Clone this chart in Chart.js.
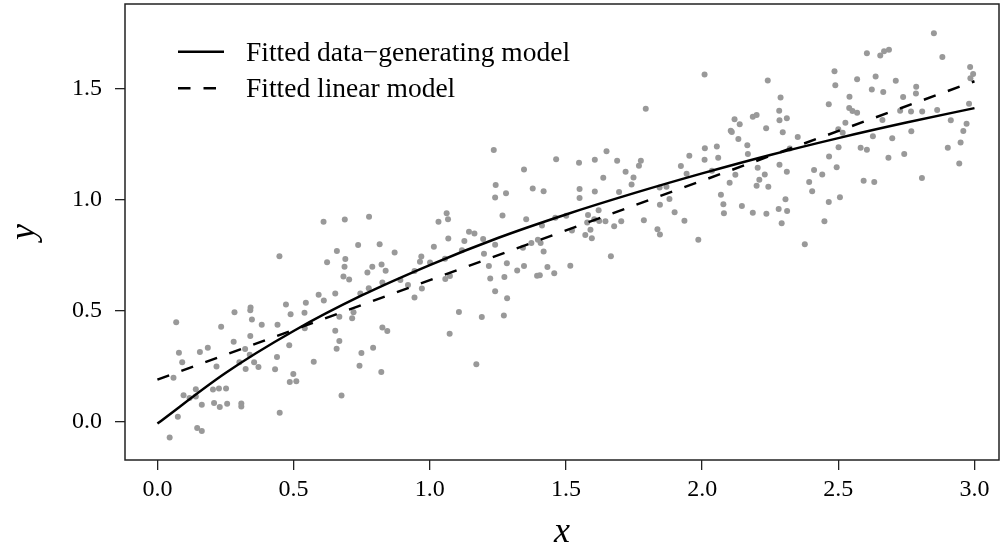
<!DOCTYPE html>
<html>
<head>
<meta charset="utf-8">
<script src="https://cdn.jsdelivr.net/npm/chart.js@4.4.1/dist/chart.umd.min.js"></script>
<style>
  html, body { margin: 0; padding: 0; background: #fff; }
  #wrap { width: 1003px; height: 550px; }
</style>
</head>
<body>
<div id="wrap"><canvas id="chart" width="1003" height="550"></canvas></div>
<script>
const ptX = [
  0.069,0.283,0.342,0.341,0.234,0.347,0.383,0.079,0.156,0.185,0.280,0.341,0.322,0.091,0.059,0.217,0.301,0.339,0.355,0.371,0.324,0.141,0.096,0.118,0.141,0.204,0.226,0.252,0.163,0.208,0.229,0.256,0.308,0.308,0.075,0.146,0.163,0.045,
  0.610,0.688,0.777,0.448,0.659,0.737,0.816,0.690,0.623,0.687,0.789,0.823,0.838,0.771,0.683,0.704,0.826,0.776,0.745,0.653,0.592,0.611,0.545,0.472,0.489,0.540,0.668,0.720,0.715,0.441,0.541,0.653,0.826,0.844,0.668,0.484,0.658,0.792,0.749,0.439,0.574,0.742,0.432,0.822,0.499,0.486,0.510,0.676,0.449,
  1.235,1.242,1.240,1.280,1.267,1.062,1.067,1.032,1.144,1.164,1.068,1.196,1.127,1.240,1.015,0.871,1.118,1.199,0.969,0.964,1.001,1.056,1.217,1.283,0.944,1.074,1.057,1.222,1.274,0.892,0.920,0.971,1.240,0.944,1.284,1.107,1.191,1.272,1.073,1.171,
  1.649,1.464,1.548,1.606,1.688,1.346,1.719,1.637,1.378,1.418,1.550,1.550,1.606,1.695,1.354,1.461,1.501,1.581,1.620,1.412,1.522,1.604,1.622,1.645,1.703,1.677,1.590,1.571,1.595,1.578,1.397,1.407,1.342,1.373,1.418,1.346,1.321,1.432,1.516,1.394,1.404,1.457,1.665,
  2.009,1.793,2.119,2.138,2.105,2.109,2.133,2.166,2.168,1.953,2.010,2.054,2.059,2.009,1.775,1.768,1.922,1.748,1.741,1.943,2.036,2.122,2.101,1.844,1.869,2.069,1.880,1.845,2.078,2.146,1.899,2.080,1.786,1.935,1.836,1.845,1.986,
  2.605,2.486,2.489,2.569,2.241,2.288,2.541,2.465,2.540,2.552,2.569,2.186,2.200,2.283,2.284,2.311,2.526,2.235,2.296,2.500,2.516,2.351,2.501,2.582,2.605,2.322,2.466,2.284,2.204,2.311,2.411,2.494,2.230,2.441,2.210,2.393,2.200,2.243,2.404,2.593,2.506,2.306,2.465,2.281,2.312,2.186,2.236,2.449,2.292,2.377,
  2.851,2.654,2.668,2.686,2.882,2.984,2.995,2.985,2.637,2.711,2.623,2.665,2.786,2.785,2.738,2.727,2.767,2.808,2.863,2.980,2.662,2.913,2.971,2.768,2.959,2.627,2.698,2.949,2.902,2.684,2.742,2.944,2.807,2.632
];
const ptY = [
  0.446,0.492,0.513,0.501,0.426,0.459,0.435,0.309,0.313,0.332,0.359,0.384,0.326,0.266,0.197,0.247,0.266,0.300,0.266,0.245,0.236,0.145,0.118,0.105,0.112,0.143,0.148,0.148,0.075,0.083,0.065,0.079,0.081,0.067,0.021,-0.030,-0.043,-0.073,
  0.899,0.909,0.922,0.744,0.767,0.794,0.798,0.731,0.717,0.697,0.697,0.707,0.679,0.671,0.653,0.639,0.625,0.600,0.576,0.576,0.570,0.544,0.534,0.526,0.483,0.489,0.471,0.491,0.465,0.435,0.420,0.408,0.423,0.407,0.362,0.343,0.327,0.332,0.308,0.290,0.269,0.251,0.235,0.222,0.213,0.177,0.181,0.117,0.039,
  1.222,1.065,1.008,1.027,0.927,0.937,0.910,0.899,0.854,0.846,0.824,0.821,0.812,0.796,0.787,0.761,0.771,0.755,0.743,0.719,0.716,0.733,0.700,0.712,0.677,0.655,0.641,0.644,0.650,0.637,0.614,0.598,0.586,0.558,0.555,0.493,0.470,0.477,0.395,0.257,
  1.217,1.181,1.165,1.179,1.174,1.135,1.124,1.097,1.049,1.036,1.047,1.006,1.035,1.033,0.910,0.917,0.926,0.930,0.951,0.882,0.860,0.910,0.903,0.901,0.901,0.879,0.863,0.839,0.825,0.896,0.818,0.803,0.782,0.804,0.765,0.700,0.680,0.695,0.701,0.656,0.658,0.667,0.744,
  1.562,1.408,1.361,1.338,1.309,1.304,1.272,1.244,1.204,1.197,1.230,1.238,1.188,1.178,1.174,1.151,1.150,1.099,1.067,1.115,1.129,1.111,1.075,1.054,1.057,1.021,1.002,0.976,0.978,0.970,0.942,0.937,0.906,0.904,0.865,0.842,0.818,
  1.658,1.577,1.514,1.541,1.535,1.459,1.462,1.428,1.411,1.398,1.390,1.372,1.380,1.399,1.356,1.365,1.345,1.320,1.302,1.316,1.300,1.281,1.235,1.233,1.223,1.229,1.193,1.156,1.142,1.124,1.132,1.145,1.112,1.112,1.088,1.078,1.061,1.057,1.036,1.084,1.009,1.000,0.988,0.957,0.948,0.940,0.935,0.901,0.892,0.798,
  1.748,1.648,1.667,1.674,1.641,1.596,1.565,1.546,1.553,1.534,1.495,1.484,1.507,1.477,1.461,1.399,1.396,1.396,1.402,1.431,1.357,1.356,1.341,1.307,1.308,1.284,1.275,1.256,1.233,1.188,1.204,1.161,1.096,1.078
];

// fitted curves, read at these x positions
const curveX = [0, 0.25, 0.5, 0.75, 1, 1.25, 1.5, 1.75, 2, 2.25, 2.5, 2.75, 3];
const curveY = [-0.01, 0.218, 0.407, 0.567, 0.704, 0.826, 0.932, 1.028, 1.117, 1.2, 1.276, 1.346, 1.411];
const linX = [0, 3];
const linY = [0.188, 1.532];

const xTicks = [0, 0.5, 1, 1.5, 2, 2.5, 3];
const yTicks = [0, 0.5, 1, 1.5];
const seriesNames = ["Fitted data\u2212generating model", "Fitted linear model"];

const SERIF = "'Liberation Serif', 'Times New Roman', serif";
const toXY = (xs, ys) => xs.map((x, i) => ({ x: x, y: ys[i] }));

// R style box around the plot region
const boxPlugin = {
  id: "box",
  afterDraw(chart) {
    const { ctx, chartArea: a } = chart;
    ctx.save();
    ctx.strokeStyle = "#222";
    ctx.lineWidth = 1.5;
    ctx.strokeRect(a.left, a.top, a.right - a.left, a.bottom - a.top);
    ctx.restore();
  }
};

// legend drawn inside the plot, top left
const insetLegend = {
  id: "insetLegend",
  afterDraw(chart) {
    const ctx = chart.ctx;
    const rows = chart.data.datasets.filter(d => d.inLegend);
    ctx.save();
    rows.forEach((ds, i) => {
      const lineY = 51.7 + i * 36.6;
      ctx.beginPath();
      ctx.setLineDash(ds.borderDash || []);
      ctx.lineWidth = ds.borderWidth;
      ctx.strokeStyle = ds.borderColor;
      ctx.moveTo(178, lineY);
      ctx.lineTo(224, lineY);
      ctx.stroke();
      ctx.setLineDash([]);
      ctx.fillStyle = "#000";
      ctx.font = "27.5px " + SERIF;
      ctx.textBaseline = "alphabetic";
      ctx.fillText(ds.label, 246, lineY + 8.8);
    });
    ctx.restore();
  }
};

new Chart(document.getElementById("chart"), {
  type: "scatter",
  data: {
    datasets: [
      {
        label: seriesNames[0],
        inLegend: true,
        data: toXY(curveX, curveY),
        showLine: true,
        borderColor: "#000",
        borderWidth: 2.5,
        cubicInterpolationMode: "monotone",
        pointRadius: 0,
        order: 1
      },
      {
        label: seriesNames[1],
        inLegend: true,
        data: toXY(linX, linY),
        showLine: true,
        borderColor: "#000",
        borderWidth: 2.5,
        borderDash: [12.5, 13],
        pointRadius: 0,
        order: 2
      },
      {
        label: "data",
        data: toXY(ptX, ptY),
        pointRadius: 3,
        pointBackgroundColor: "#999999",
        pointBorderWidth: 0,
        order: 3
      }
    ]
  },
  options: {
    responsive: false,
    animation: false,
    layout: { padding: { top: 2, right: 2, left: 0, bottom: 0 } },
    plugins: {
      legend: { display: false },
      tooltip: { enabled: false }
    },
    scales: {
      x: {
        type: "linear",
        min: -0.119,
        max: 3.09,
        afterBuildTicks: s => { s.ticks = xTicks.map(v => ({ value: v })); },
        afterFit: s => { s.height = 90; s.paddingLeft = 0; s.paddingRight = 0; },
        border: { display: false },
        grid: { drawOnChartArea: false, drawTicks: true, tickLength: 10, color: "#222", lineWidth: 1.3 },
        ticks: {
          color: "#000",
          padding: 5,
          maxRotation: 0,
          font: { family: SERIF, size: 24 },
          callback: v => v.toFixed(1)
        },
        title: {
          display: true,
          text: "x",
          color: "#000",
          padding: 0,
          font: { family: SERIF, size: 36, style: "italic", lineHeight: 0.95 }
        }
      },
      y: {
        type: "linear",
        min: -0.174,
        max: 1.88,
        afterBuildTicks: s => { s.ticks = yTicks.map(v => ({ value: v })); },
        afterFit: s => { s.width = 125; s.paddingTop = 0; s.paddingBottom = 0; },
        border: { display: false },
        grid: { drawOnChartArea: false, drawTicks: true, tickLength: 10, color: "#222", lineWidth: 1.3 },
        ticks: {
          color: "#000",
          padding: 13,
          font: { family: SERIF, size: 24 },
          callback: v => v.toFixed(1)
        },
        title: {
          display: true,
          text: "y",
          color: "#000",
          padding: { top: 3, bottom: 0 },
          font: { family: SERIF, size: 36, style: "italic", lineHeight: 1.2 }
        }
      }
    }
  },
  plugins: [boxPlugin, insetLegend]
});
</script>
</body>
</html>
